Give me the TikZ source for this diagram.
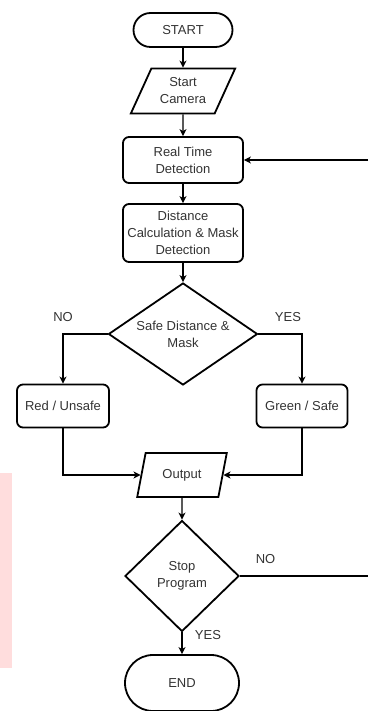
\documentclass[tikz,border=0pt]{standalone}
\usepackage{fontspec}
\setmainfont{Liberation Sans}
\usetikzlibrary{shapes.geometric,arrows.meta}
\definecolor{textgray}{RGB}{51,51,51}
\definecolor{notepink}{RGB}{255,221,221}
\begin{document}
\begin{tikzpicture}[x=1pt,y=-1pt,
  every node/.style={font=\fontsize{13}{17}\selectfont,text=textgray,align=center},
  shapeline/.style={draw=black,line width=1.8pt},
  terminal/.style={shapeline,rounded corners=#1,minimum height=2*#1},
  process/.style={shapeline,rounded corners=6pt,minimum width=120pt,inner sep=2pt},
  io/.style={shapeline,trapezium,trapezium stretches=true,inner sep=1pt},
  decision/.style={shapeline,diamond,inner sep=0pt},
  conn/.style={line width=1.2pt,-{Stealth[length=7pt,width=7pt,inset=2pt]}},
  plain/.style={line width=1.2pt}]
\useasboundingbox (0,0) rectangle (368,711);
% side note
\fill[notepink] (0,473) rectangle (12,668);
% main flow
\node[terminal=17pt,minimum width=99pt] (start) at (183,30) {START};
\node[io,trapezium left angle=61,trapezium right angle=119,minimum width=105pt,minimum height=45pt] (cam) at (183,91) {Start\\Camera};
\node[process,minimum height=46pt] (rtd) at (183,160) {Real Time\\Detection};
\node[process,minimum height=58pt] (dist) at (183,233) {Distance\\Calculation \& Mask\\Detection};
\node[decision,aspect=1.46,minimum width=149pt,minimum height=102pt] (safe) at (183,334) {Safe Distance \&\\Mask};
\node[process,minimum width=92pt,minimum height=43pt] (red) at (63,406) {Red / Unsafe};
\node[process,minimum width=91pt,minimum height=43pt] (green) at (302,406) {Green / Safe};
\node[io,trapezium left angle=71,trapezium right angle=109,minimum width=90pt,minimum height=44pt] (out) at (182,475) {Output};
\node[decision,aspect=1.03,minimum width=114pt,minimum height=111pt] (stop) at (182,576) {Stop\\Program};
\node[terminal=28pt,minimum width=114pt] (end) at (182,683) {END};
% connectors
\draw[conn] (start) -- (cam);
\draw[conn] (cam) -- (rtd);
\draw[conn] (rtd) -- (dist);
\draw[conn] (dist) -- (safe);
\draw[conn] (safe.west) -| node[pos=0.5,above=8pt] {NO} (red.north);
\draw[conn] (safe.east) -| node[pos=0.5,above=8pt,xshift=-14pt] {YES} (green.north);
\draw[conn] (red.south) |- (out.west);
\draw[conn] (green.south) |- (out.east);
\draw[conn] (out) -- (stop);
\draw[conn] (stop) -- node[pos=0.1,right=9pt] {YES} (end);
% loop back (cut at the edge)
\coordinate (back) at (368,576);
\coordinate (loop) at (368,160);
\draw[plain] (stop.east) -- node[pos=0.2,above=8pt] {NO} (back);
\draw[conn] (loop) -- (rtd.east);
\end{tikzpicture}
\end{document}
